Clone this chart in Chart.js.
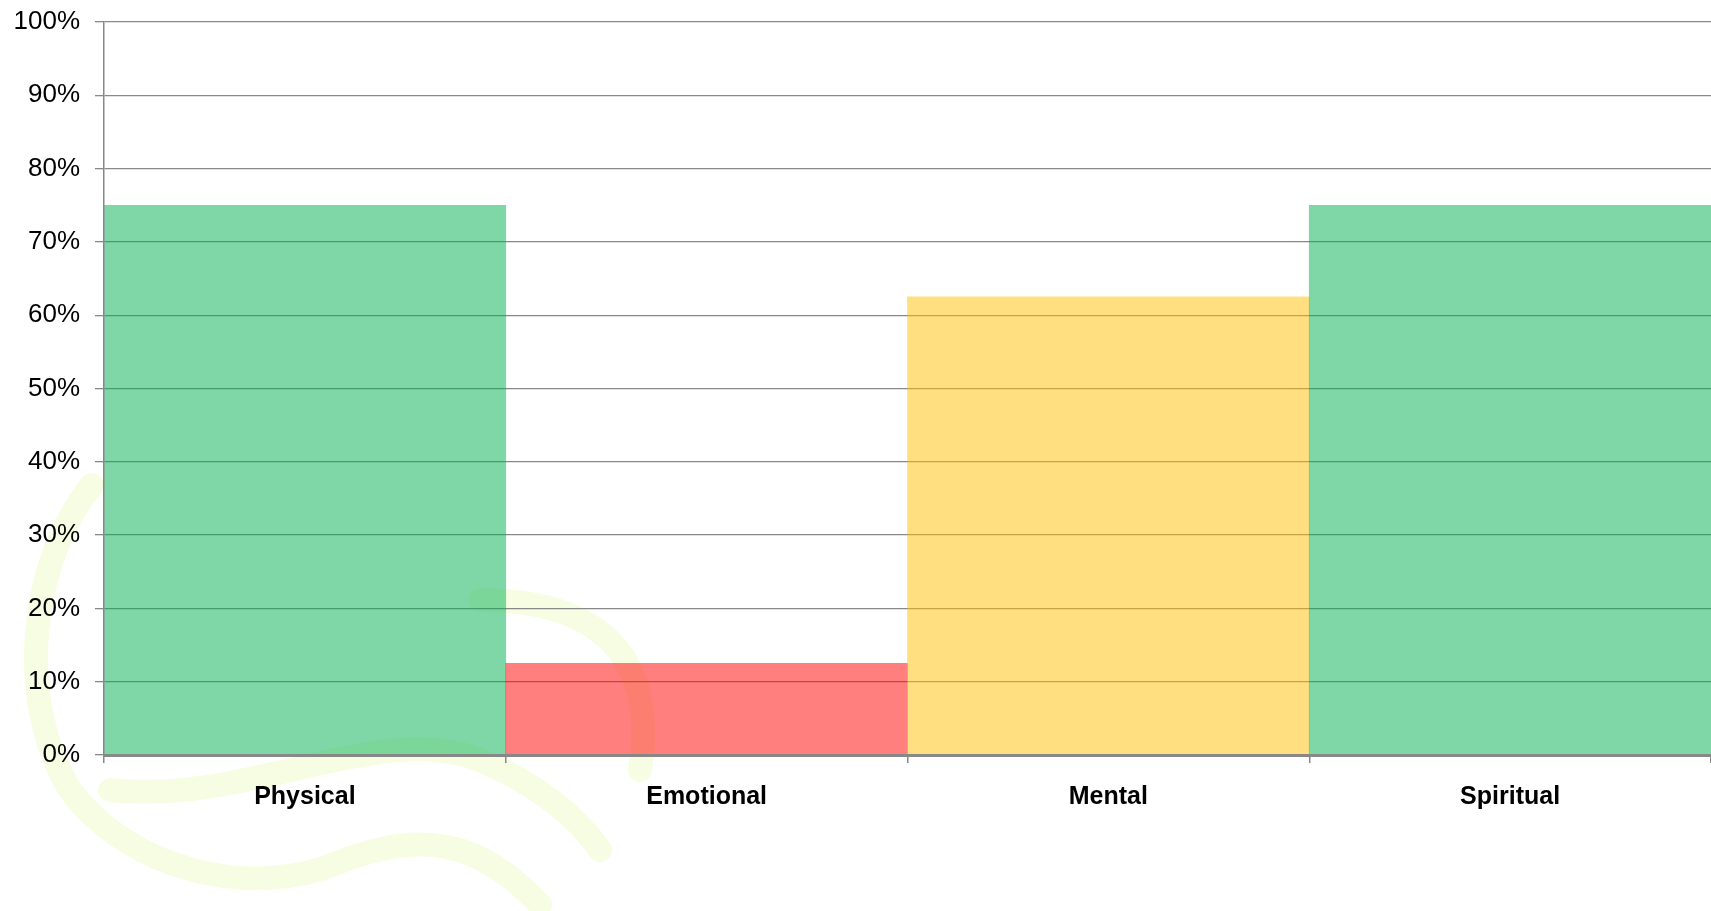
<!DOCTYPE html>
<html>
<head>
<meta charset="utf-8">
<title>Balance chart</title>
<script src="https://cdn.jsdelivr.net/npm/chart.js@4/dist/chart.umd.min.js"></script>
<style>
  html, body { margin: 0; padding: 0; background: #fff; }
  #wrap { width: 1711px; height: 911px; }
</style>
</head>
<body>
<div id="wrap"><canvas id="balanceChart" width="1711" height="911"></canvas></div>
<script>
// chart data
const categories = ['Physical', 'Emotional', 'Mental', 'Spiritual'];
const scores = [75, 12.5, 62.5, 75];
const barColors = [
    'rgba(0, 176, 80, 0.5)',
    'rgba(255, 0, 0, 0.5)',
    'rgba(255, 192, 0, 0.5)',
    'rgba(0, 176, 80, 0.5)'
];
const yTickStep = 10;
const yMax = 100;

// faint logo swirl behind the plot
const watermark = {
    id: 'watermark',
    beforeDraw(chart) {
        const c = chart.ctx;
        c.save();
        c.strokeStyle = '#f7fde2';
        c.lineWidth = 24;
        c.lineCap = 'round';
        c.beginPath();
        c.moveTo(92, 485);
        c.bezierCurveTo(30, 560, 15, 700, 70, 790);
        c.bezierCurveTo(130, 870, 250, 900, 340, 862);
        c.bezierCurveTo(420, 830, 480, 840, 540, 905);
        c.stroke();
        c.beginPath();
        c.moveTo(110, 790);
        c.bezierCurveTo(250, 805, 380, 720, 480, 760);
        c.bezierCurveTo(540, 785, 580, 820, 600, 850);
        c.stroke();
        c.beginPath();
        c.moveTo(480, 600);
        c.bezierCurveTo(580, 600, 660, 640, 640, 770);
        c.stroke();
        c.restore();
    }
};

document.addEventListener('DOMContentLoaded', function () {
    const ctx = document.getElementById('balanceChart').getContext('2d');
    const balanceChart = new Chart(ctx, {
        type: 'bar',
        data: {
            labels: categories,
            datasets: [{
                label: 'Score',
                data: scores,
                backgroundColor: barColors,
                borderWidth: 0,
                barPercentage: 1,
                categoryPercentage: 1
            }]
        },
        options: {
            responsive: false,
            animation: false,
            layout: { padding: { top: 22, right: 0, bottom: 0, left: 0 } },
            plugins: {
                legend: { display: false },
                tooltip: { enabled: false }
            },
            scales: {
                x: {
                    grid: {
                        drawOnChartArea: false,
                        drawTicks: true,
                        tickLength: 8,
                        color: '#888888',
                        lineWidth: 1.5
                    },
                    border: { color: '#888888', width: 3, z: 1 },
                    ticks: {
                        color: '#000',
                        padding: 19,
                        font: { family: '"Liberation Sans", Arial, sans-serif', size: 25, weight: 'bold' }
                    },
                    afterFit: function (scale) {
                        scale.height = 156;
                        scale.paddingLeft = 0;
                        scale.paddingRight = 0;
                    }
                },
                y: {
                    min: 0,
                    max: yMax,
                    ticks: {
                        stepSize: yTickStep,
                        color: '#000',
                        padding: 15,
                        font: { family: '"Liberation Sans", Arial, sans-serif', size: 26 },
                        callback: function (v) { return v + '%'; }
                    },
                    grid: {
                        color: '#888888',
                        lineWidth: 1.3,
                        tickLength: 9
                    },
                    border: { color: '#888888', width: 1.5, z: 1 },
                    afterFit: function (scale) {
                        scale.width = 104;
                        scale.paddingTop = 0;
                        scale.paddingBottom = 0;
                    }
                }
            }
        },
        plugins: [watermark]
    });
});
</script>
</body>
</html>
